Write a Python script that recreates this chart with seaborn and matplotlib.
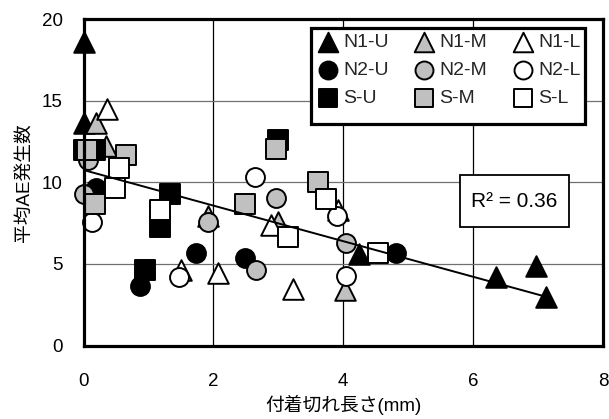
import numpy as np
import pandas as pd
import matplotlib
matplotlib.use("Agg")
import matplotlib.pyplot as plt
import seaborn as sns
from matplotlib.patches import Rectangle

# ---- data ----
n1u_x = [0.00, 0.00, 4.25, 6.35, 6.97, 7.12]
n1u_y = [18.6, 13.6, 5.6, 4.2, 4.9, 2.95]
n1m_x = [0.19, 0.35, 3.00, 4.02, 1.92]
n1m_y = [13.65, 12.2, 7.55, 3.4, 7.93]
n1l_x = [0.36, 1.50, 2.07, 2.88, 3.23, 3.92]
n1l_y = [14.5, 4.6, 4.47, 7.4, 3.45, 8.3]
n2u_x = [0.20, 0.87, 1.74, 2.48, 4.82]
n2u_y = [9.64, 3.64, 5.64, 5.36, 5.68]
n2m_x = [0.07, 0.00, 1.92, 2.97, 2.66, 4.05]
n2m_y = [11.35, 9.28, 7.58, 9.05, 4.62, 6.3]
n2l_x = [0.13, 2.64, 3.90, 4.05, 1.47]
n2l_y = [7.58, 10.34, 7.95, 4.26, 4.21]
su_x = [0.00, 0.18, 1.33, 1.18, 0.95, 3.00]
su_y = [12.0, 12.0, 9.26, 7.28, 4.62, 12.58]
sm_x = [0.06, 0.66, 0.18, 2.48, 2.97, 3.61]
sm_y = [12.0, 11.67, 8.65, 8.65, 12.03, 9.99]
sl_x = [0.54, 0.48, 1.18, 3.73, 3.15, 4.54]
sl_y = [10.9, 9.63, 8.3, 9.0, 6.66, 5.68]

series_names = ["N1-U", "N1-M", "N1-L", "N2-U", "N2-M", "N2-L", "S-U", "S-M", "S-L"]
series_x = [n1u_x, n1m_x, n1l_x, n2u_x, n2m_x, n2l_x, su_x, sm_x, sl_x]
series_y = [n1u_y, n1m_y, n1l_y, n2u_y, n2m_y, n2l_y, su_y, sm_y, sl_y]

trend_intercept = 10.75
trend_slope = -1.09
r2_label = "R² = 0.36"

x_ticks = [0, 2, 4, 6, 8]
y_ticks = [0, 5, 10, 15, 20]
x_label = "付着切れ長さ(mm)"
y_label = "平均AE発生数"

# ---- styles ----
markers = ["^", "^", "^", "o", "o", "o", "s", "s", "s"]
fills = ["black", "#c0c0c0", "white"] * 3
sizes = [220, 220, 220, 185, 185, 185, 195, 195, 195]

sns.set_theme(style="white")
plt.rcParams["font.family"] = ["Liberation Sans", "Noto Sans CJK JP"]
plt.rcParams["axes.unicode_minus"] = False

fig = plt.figure(figsize=(6.09, 4.19), dpi=100)
ax = fig.add_axes([83.5 / 609, 1 - 345.5 / 419, (603 - 83.5) / 609, (345.5 - 19) / 419])

for name, xs, ys, m, fc, s in zip(series_names, series_x, series_y, markers, fills, sizes):
    df = pd.DataFrame({"x": xs, "y": ys})
    sns.scatterplot(data=df, x="x", y="y", marker=m, s=s, color=fc,
                    edgecolor="black", linewidth=1.4, label=name, ax=ax,
                    zorder=3, legend=True, clip_on=False)

all_x = np.concatenate([np.asarray(v, float) for v in series_x])
tx = np.array([all_x.min(), all_x.max()])
ax.plot(tx, trend_intercept + trend_slope * tx, color="black", lw=1.4, zorder=4)

ax.set_xlim(0, 8)
ax.set_ylim(0, 20)
ax.set_xticks(x_ticks)
ax.set_yticks(y_ticks)
ax.tick_params(axis="x", length=0, pad=20, labelsize=13.5, colors="black")
ax.tick_params(axis="y", length=0, pad=15, labelsize=13.5, colors="black")
ax.set_axisbelow(True)
ax.xaxis.grid(True, color="black", lw=0.9)
ax.yaxis.grid(True, color="#707070", lw=0.9)
for sp in ax.spines.values():
    sp.set_color("black")
    sp.set_linewidth(2.3)
    sp.set_zorder(6)

ax.set_xlabel(x_label, fontsize=13.5, labelpad=3, color="black")
ax.set_ylabel(y_label, fontsize=13.5, labelpad=6, color="black")

# R^2 box
ax.add_patch(Rectangle((0.7247, 0.363), 0.2099, 0.159, transform=ax.transAxes,
                       facecolor="white", edgecolor="black", lw=1.3, zorder=5))
ax.text(0.8297, 0.4425, r2_label, transform=ax.transAxes, ha="center", va="center",
        fontsize=15, color="black", zorder=6)

# legend frame
ax.add_patch(Rectangle((0.437, 0.678), 0.528, 0.2935, transform=ax.transAxes,
                       facecolor="white", edgecolor="black", lw=2.3, zorder=5))
handles, labels = ax.get_legend_handles_labels()
order = [0, 3, 6, 1, 4, 7, 2, 5, 8]
leg = ax.legend([handles[i] for i in order], [labels[i] for i in order], ncol=3,
                loc="upper left", bbox_to_anchor=(0.452, 0.955), frameon=False,
                fontsize=14, markerscale=0.95, handlelength=1.0, handletextpad=0.27,
                columnspacing=1.35, labelspacing=0.52, borderpad=0, borderaxespad=0)
leg.set_zorder(7)

fig.savefig("out.png", dpi=100)
